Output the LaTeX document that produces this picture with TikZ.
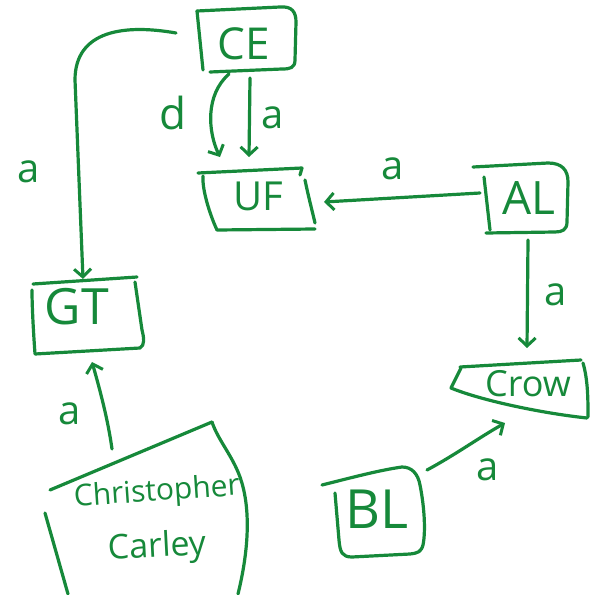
\documentclass[tikz,border=0pt]{standalone}
\usepackage{fontspec}
\setmainfont{Open Sans}
\usetikzlibrary{arrows.meta}
\definecolor{ink}{RGB}{22,137,58}
\begin{document}
\begin{tikzpicture}[x=1pt,y=-1pt,
  pen/.style={draw=ink, line width=3.2pt, line cap=round, line join=round},
  link/.style={pen, -{Straight Barb[length=8pt,width=17pt,line width=3pt]}},
  lbl/.style={text=ink, inner sep=0pt, font=\fontsize{40}{44}\selectfont},
  lettering/.style={text=ink, inner sep=0pt, font=\fontsize{#1}{#1}\selectfont},
]
\useasboundingbox[fill=white] (0,0) rectangle (602,594);

% ---- texts of the boxes
\node[lettering=44] (CE)   at (244,44)  {CE};
\node[lettering=40] (UF)   at (258,196) {UF};
\node[lettering=46] (AL)   at (529,198) {AL};
\node[lettering=36] (Crow) at (528,384) {Crow};
\node[lettering=50] (GT)   at (77,307)  {GT};
\node[lettering=54] (BL)   at (377,509) {BL};
\node[lettering=30, rotate=4] (CC1) at (157,493) {Christopher};
\node[lettering=34, rotate=3] (CC2) at (157,548) {Carley};

% ---- hand-drawn outlines
% CE
\draw[pen] (197,11) -- (203,70);
\draw[pen] (197,11) -- (280,7) .. controls (292,6) and (296,12) .. (296,22)
  -- (295,60) .. controls (295,68) and (290,69) .. (282,69) -- (210,72);
% UF
\draw[pen] (198,173) -- (302,168) -- (300,175);
\draw[pen] (203,176) .. controls (202,190) and (210,215) .. (217,230) -- (315,229);
\draw[pen] (305,180) .. controls (308,195) and (312,210) .. (315,223);
% AL
\draw[pen] (473,167) -- (548,163) .. controls (562,163) and (568,170) .. (568,182)
  -- (567,222) .. controls (567,230) and (562,232) .. (555,232) -- (486,233);
\draw[pen] (484,177) -- (490,230);
% Crow
\draw[pen] (460,367) -- (581,360);
\draw[pen] (461,368) -- (451,388) .. controls (480,400) and (540,413) .. (587,418);
\draw[pen] (583,363) .. controls (588,380) and (588,400) .. (588,417);
% GT
\draw[pen] (33,284) -- (137,277);
\draw[pen] (32,290) .. controls (32,310) and (34,340) .. (35,354) -- (140,348)
  .. controls (145,345) and (144,338) .. (142,330) -- (135,282);
% Christopher Carley
\draw[pen] (50,490) -- (212,422);
\draw[pen] (212,422) .. controls (218,440) and (232,455) .. (240,477)
  .. controls (250,505) and (250,545) .. (238,594);
\draw[pen] (45,513) -- (68,594);
% BL
\draw[pen] (322,485) .. controls (350,478) and (380,470) .. (402,467)
  .. controls (412,467) and (418,474) .. (420,485)
  .. controls (424,505) and (426,530) .. (423,545)
  .. controls (421,552) and (418,553) .. (410,554) -- (352,557)
  .. controls (342,557) and (340,552) .. (339,540) -- (335,493);

% ---- connector ends
\coordinate (ce-left)  at (176,33);
\coordinate (ce-bl)    at (229,74);
\coordinate (ce-br)    at (250,78);
\coordinate (uf-tl)    at (220,157);
\coordinate (uf-tr)    at (249,157);
\coordinate (uf-right) at (324,202);
\coordinate (al-left)  at (480,193);
\coordinate (al-bot)   at (528,240);
\coordinate (crow-top) at (527,348);
\coordinate (crow-bl)  at (505,423);
\coordinate (gt-top)   at (83,279);
\coordinate (gt-bot)   at (92,362);
\coordinate (cc-top)   at (112,449);
\coordinate (bl-top)   at (427,470);

% ---- connectors
\draw[link] (ce-left) .. controls (125,24) and (75,30) .. (75,80) -- (gt-top);
\draw[link] (ce-bl) .. controls (205,95) and (208,132) .. (uf-tl);
\draw[link] (ce-br) -- (uf-tr);
\draw[link] (al-left) -- (uf-right);
\draw[link] (al-bot) -- (crow-top);
\draw[link] (cc-top) .. controls (108,420) and (100,390) .. (gt-bot);
\draw[link] (bl-top) .. controls (455,455) and (480,437) .. (crow-bl);

% ---- connector labels
\node[lbl] (l-cegt)  at (29,172)  {a};
\node[lbl, font=\fontsize{44}{48}\selectfont] (l-ceuf1) at (173,113) {d};
\node[lbl] (l-ceuf2) at (273,118) {a};
\node[lbl] (l-aluf)  at (393,169) {a};
\node[lbl] (l-alcr)  at (556,295) {a};
\node[lbl] (l-ccgt)  at (70,414)  {a};
\node[lbl] (l-blcr)  at (488,470) {a};
\end{tikzpicture}
\end{document}
